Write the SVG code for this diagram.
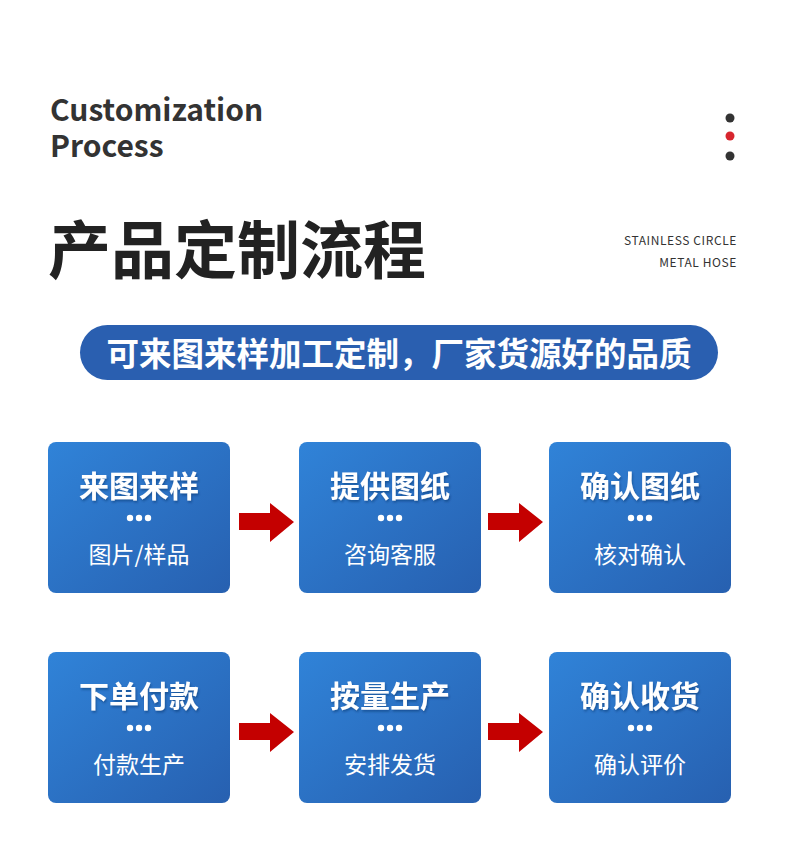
<svg xmlns="http://www.w3.org/2000/svg" width="786" height="859" viewBox="0 0 786 859">
<defs>
<linearGradient id="bg" x1="0" y1="0" x2="1" y2="1">
<stop offset="0" stop-color="#3083d8"/>
<stop offset="1" stop-color="#2760b0"/>
</linearGradient>
<filter id="sh" x="-10%" y="-20%" width="120%" height="150%">
<feDropShadow dx="1" dy="2" stdDeviation="1.2" flood-color="#0a2a60" flood-opacity="0.45"/>
</filter>
<path id="arr" d="M0,10 H31 V0 L55,19 L31,39 V27 H0 Z"/>
<g id="dots" fill="#ffffff">
<circle cx="-9" cy="0" r="3.2"/><circle cx="0" cy="0" r="3.2"/><circle cx="9" cy="0" r="3.2"/>
</g>
</defs>
<style>
.cjk{font-family:"Noto Sans CJK SC","Noto Sans",sans-serif}
.en{font-family:"Noto Sans CJK SC","Noto Sans",sans-serif;font-weight:700;fill:#333333;font-size:30px}
.box{fill:url(#bg)}
.t{font-family:"Noto Sans CJK SC",sans-serif;font-weight:700;font-size:30px;fill:#ffffff;text-anchor:middle}
.s{font-family:"Noto Sans CJK SC",sans-serif;font-weight:400;font-size:23px;fill:#ffffff;text-anchor:middle}
.sm{font-family:"Noto Sans CJK SC","Noto Sans",sans-serif;font-size:12px;fill:#333333;text-anchor:end;letter-spacing:0.6px}
.ar{fill:#c40000}
</style>
<rect width="786" height="859" fill="#ffffff"/>
<g id="header">
<text class="en" x="50" y="121">Customization</text>
<text class="en" x="50" y="157">Process</text>
<circle cx="730" cy="118" r="4.5" fill="#333333"/>
<circle cx="730" cy="136" r="4.5" fill="#d7262e"/>
<circle cx="730" cy="156" r="4.5" fill="#333333"/>
<text class="cjk" x="48" y="273" font-size="63" font-weight="700" fill="#222222">产品定制流程</text>
<text class="sm" x="737" y="245">STAINLESS CIRCLE</text>
<text class="sm" x="737" y="267">METAL HOSE</text>
</g>
<g id="banner">
<rect x="80" y="325" width="638" height="55" rx="27.5" fill="#2a5fb0"/>
<text class="cjk" x="399" y="366" font-size="32.5" font-weight="700" fill="#ffffff" text-anchor="middle">可来图来样加工定制，厂家货源好的品质</text>
</g>
<g id="connectors">
<use href="#arr" class="ar" x="239" y="503"/>
<use href="#arr" class="ar" x="488" y="503"/>
<use href="#arr" class="ar" x="239" y="713"/>
<use href="#arr" class="ar" x="488" y="713"/>
</g>
<g id="n1">
<rect class="box" x="48" y="442" width="182" height="151" rx="8"/>
<text class="t" x="139" y="497" filter="url(#sh)">来图来样</text>
<use href="#dots" x="139" y="518"/>
<text class="s" x="139" y="563">图片/样品</text>
</g>
<g id="n2">
<rect class="box" x="299" y="442" width="182" height="151" rx="8"/>
<text class="t" x="390" y="497" filter="url(#sh)">提供图纸</text>
<use href="#dots" x="390" y="518"/>
<text class="s" x="390" y="563">咨询客服</text>
</g>
<g id="n3">
<rect class="box" x="549" y="442" width="182" height="151" rx="8"/>
<text class="t" x="640" y="497" filter="url(#sh)">确认图纸</text>
<use href="#dots" x="640" y="518"/>
<text class="s" x="640" y="563">核对确认</text>
</g>
<g id="n4">
<rect class="box" x="48" y="652" width="182" height="151" rx="8"/>
<text class="t" x="139" y="707" filter="url(#sh)">下单付款</text>
<use href="#dots" x="139" y="728"/>
<text class="s" x="139" y="773">付款生产</text>
</g>
<g id="n5">
<rect class="box" x="299" y="652" width="182" height="151" rx="8"/>
<text class="t" x="390" y="707" filter="url(#sh)">按量生产</text>
<use href="#dots" x="390" y="728"/>
<text class="s" x="390" y="773">安排发货</text>
</g>
<g id="n6">
<rect class="box" x="549" y="652" width="182" height="151" rx="8"/>
<text class="t" x="640" y="707" filter="url(#sh)">确认收货</text>
<use href="#dots" x="640" y="728"/>
<text class="s" x="640" y="773">确认评价</text>
</g>
</svg>
